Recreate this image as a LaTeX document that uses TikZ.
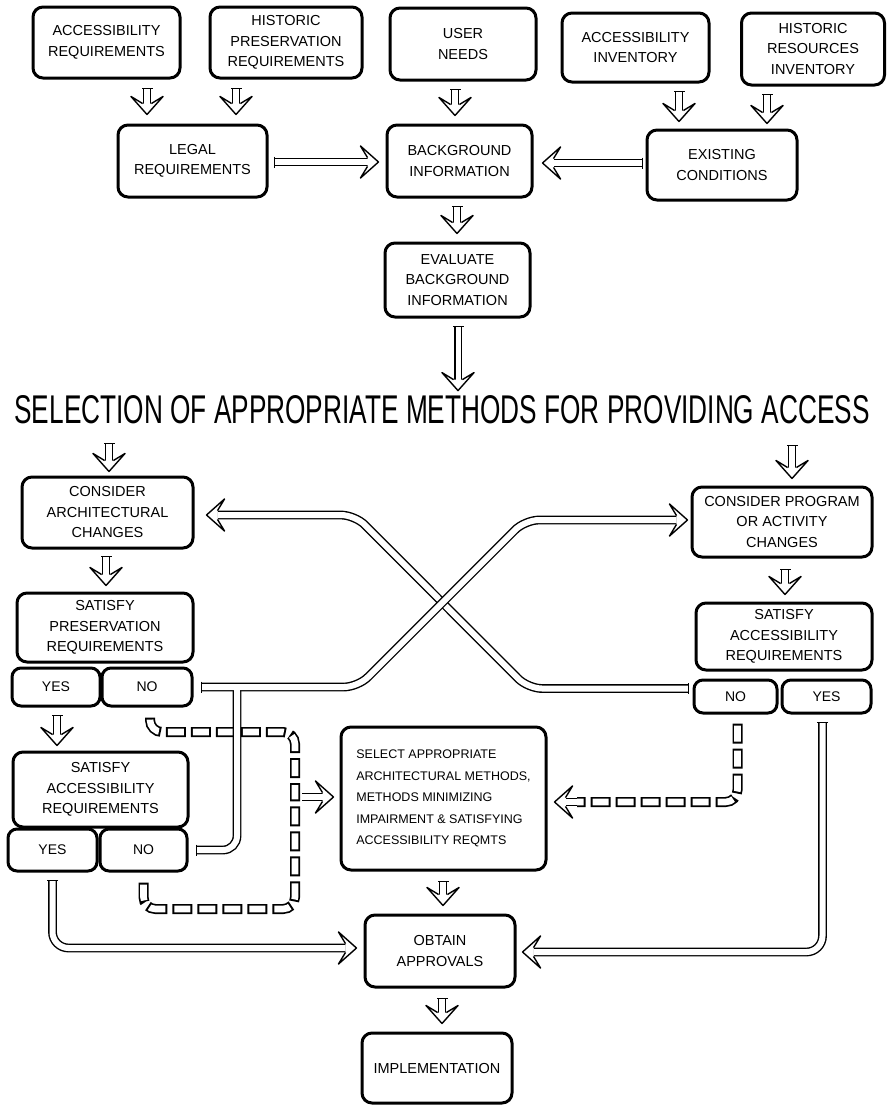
\documentclass[tikz,border=0pt]{standalone}
\usepackage{fontspec}
\setmainfont{Liberation Sans}
\usepackage{graphicx}
\usetikzlibrary{calc}
\tikzset{
  bhead/.pic={\draw[line width=1.4pt, fill=white, line join=round] (-11,-4.4) -- (-18,-16) -- (0,0) -- (-18,16) -- (-11,4.4);},
  btail/.pic={\draw[line width=1.4pt] (0,-5.5) -- (0,5.5);},
  box/.style={draw, line width=3pt, rounded corners=10pt, align=center, inner sep=0pt, font=\fontsize{14.5}{20.5}\selectfont},
  yn/.style={draw, line width=3pt, rounded corners=9pt, inner sep=0pt, font=\fontsize{14}{15}\selectfont},
  sz/.style 2 args={minimum width=#1pt, minimum height=#2pt},
  dbl/.style={draw, line width=1.4pt, double=white, double distance=6pt},
  dsh/.style={line width=10pt, dash pattern=on 20pt off 5pt,
    postaction={draw=white, line width=6.6pt, dash pattern=on 16pt off 9pt, dash phase=23pt}},
}
\newcommand\vda[5]{%
  \coordinate (vx) at (#1,0);
  \coordinate (vs) at ($(#2.south -| vx)+(0,#4)$);
  \coordinate (ve) at ($(#3.north -| vx)+(0,-#5)$);
  \draw[dbl, shorten >=11pt] (vs) -- (ve);
  \pic[rotate=-90] at (vs) {btail};
  \pic[rotate=-90] at (ve) {bhead};}
\begin{document}
\begin{tikzpicture}[x=1pt,y=-1pt]
\useasboundingbox (0,0) rectangle (888,1106);
% top row
\node[box, sz={147}{71}] (accreq) at (106.5,42.5) {ACCESSIBILITY\\REQUIREMENTS};
\node[box, sz={152}{71}] (histpres) at (286,42.5) {HISTORIC\\PRESERVATION\\REQUIREMENTS};
\node[box, sz={146}{72}] (userneeds) at (463,44) {USER\\NEEDS};
\node[box, sz={147}{69}] (accinv) at (635.5,47.5) {ACCESSIBILITY\\INVENTORY};
\node[box, sz={143}{72}] (histres) at (813,49) {HISTORIC\\RESOURCES\\INVENTORY};
% second row
\node[box, sz={149}{72}] (legal) at (192.5,161) {LEGAL\\REQUIREMENTS};
\node[box, sz={145}{72}] (bg) at (459.5,161) {BACKGROUND\\INFORMATION};
\node[box, sz={150}{70}] (existing) at (722,165) {EXISTING\\CONDITIONS};
\node[box, sz={145}{74}] (eval) at (457.5,280) {EVALUATE\\BACKGROUND\\INFORMATION};
% title
\node[inner sep=0pt] (title) at (442,410) {\resizebox{855pt}{28pt}{SELECTION OF APPROPRIATE METHODS FOR PROVIDING ACCESS}};
% left column
\node[box, sz={171}{71}] (consarch) at (107.5,512.5) {CONSIDER\\ARCHITECTURAL\\CHANGES};
\node[box, sz={176}{69}] (satpres) at (105,627.5) {SATISFY\\PRESERVATION\\REQUIREMENTS};
\node[yn, sz={88}{38}] (yes1) at (56,687) {YES};
\node[yn, sz={90}{38}] (no1) at (147,687) {NO};
\node[box, sz={175}{75}] (sataccl) at (100.5,789.5) {SATISFY\\ACCESSIBILITY\\REQUIREMENTS};
\node[yn, sz={89}{42}] (yes2) at (52.5,850) {YES};
\node[yn, sz={87}{42}] (no2) at (143.5,850) {NO};
% right column
\node[box, sz={180}{70}] (consprog) at (782,522) {CONSIDER PROGRAM\\OR ACTIVITY\\CHANGES};
\node[box, sz={176}{67}] (sataccr) at (784,636.5) {SATISFY\\ACCESSIBILITY\\REQUIREMENTS};
\node[yn, sz={83}{33}] (nor) at (735.5,696.5) {NO};
\node[yn, sz={89}{33}] (yesr) at (826.5,696.5) {YES};
% centre bottom
\node[box, sz={205}{143}, align=left, font=\fontsize{12.5}{21.5}\selectfont] (select) at (443.5,798.5) {SELECT APPROPRIATE\\ARCHITECTURAL METHODS,\\METHODS MINIMIZING\\IMPAIRMENT \& SATISFYING\\ACCESSIBILITY REQMTS};
\node[box, sz={150}{72}] (obtain) at (440,951) {OBTAIN\\APPROVALS};
\node[box, sz={150}{70}] (impl) at (437,1068) {IMPLEMENTATION};

% short vertical arrows
\vda{147}{accreq}{legal}{9}{9}
\vda{236}{histpres}{legal}{9}{9}
\vda{455}{userneeds}{bg}{8}{8}
\vda{679}{accinv}{existing}{8}{7}
\vda{767}{histres}{existing}{8}{5}
\vda{457}{bg}{eval}{8}{8}
\vda{109}{title}{consarch}{19}{4}
\vda{792}{title}{consprog}{21}{7}
\vda{106}{consarch}{satpres}{7}{6}
\vda{785}{consprog}{sataccr}{11}{7}
\vda{57}{yes1}{sataccl}{8}{5}
\vda{443}{select}{obtain}{10}{8}
\vda{442}{obtain}{impl}{10}{8}
% long arrow to title
\coordinate (es) at ($(eval.south)+(0.5,8)$);
\coordinate (ee) at ($(title.north -| es)+(0,-5)$);
\draw[dbl, double distance=5pt, shorten >=11pt] (es) -- (ee);
\pic[rotate=-90] at (es) {btail};
\pic[rotate=-90] at (ee) {bhead};
% horizontal arrows
\coordinate (ls) at ($(legal.east)+(6,1)$);
\coordinate (le) at ($(bg.west)+(-7,1)$);
\draw[dbl, shorten >=11pt] (ls) -- (le);
\pic at (ls) {btail}; \pic at (le) {bhead};
\coordinate (xs) at ($(existing.west)+(-3,-2)$);
\coordinate (xe) at ($(bg.east)+(9,2)$);
\draw[dbl, shorten >=11pt] (xs) -- (xe);
\pic at (xs) {btail}; \pic[rotate=180] at (xe) {bhead};

% dashed connectors
\coordinate (dj) at (295,797);
\coordinate (d1s) at ($(no1.south)+(3,10)$);
\coordinate (d2s) at ($(no2.south)+(0,10)$);
\draw[dsh, rounded corners=12pt] (d1s) -- (d1s |- 0,732) -- (295,732) -- (dj);
\draw[dsh, rounded corners=12pt] (d2s) -- (d2s |- 0,909) -- (295,909) -- (dj);
\coordinate (djs) at (302,797);
\coordinate (dje) at ($(select.west)+(-6,-1.5)$);
\draw[dbl, shorten >=11pt] (djs) -- (dje);
\pic at (dje) {bhead};
\coordinate (d3s) at ($(nor.south)+(2,9)$);
\coordinate (d3j) at (577,802);
\draw[dsh, rounded corners=12pt] (d3s) -- (d3s |- d3j) -- (d3j);
\coordinate (d3e) at ($(select.east)+(7,3.5)$);
\draw[dbl, shorten >=11pt] (d3j) -- (d3e);
\pic[rotate=180] at (d3e) {bhead};

% crossing connectors
\coordinate (as) at ($(nor.west)+(-4,-8)$);
\coordinate (ae) at ($(consarch.east)+(12,2.5)$);
\draw[dbl, rounded corners=14pt, shorten >=11pt] (as) -- (528,688.5) -- (355,515) -- (ae);
\pic at (as) {btail}; \pic[rotate=180] at (ae) {bhead};
\coordinate (cs) at ($(no2.east)+(8,0)$);
\coordinate (cj) at (237,687);
\draw[dbl, rounded corners=14pt] (cs) -- (237,850) -- (cj);
\pic at (cs) {btail};
\coordinate (bs) at ($(no1.east)+(8,0)$);
\coordinate (be) at ($(consprog.west)+(-3,-2)$);
\draw[dbl, rounded corners=14pt, shorten >=11pt] (bs) -- (358,687) -- (525,520) -- (be);
\pic at (bs) {btail}; \pic at (be) {bhead};
\draw[white, line width=6pt] (237,700) -- (cj);

% yes connectors to approvals
\coordinate (ys) at ($(yes2.south)+(0,8)$);
\coordinate (ye) at ($(obtain.west)+(-7,-3)$);
\draw[dbl, rounded corners=16pt, shorten >=11pt] (ys) -- (ys |- ye) -- (ye);
\pic[rotate=-90] at (ys) {btail}; \pic at (ye) {bhead};
\coordinate (rs) at ($(yesr.south)+(-4,8)$);
\coordinate (re) at ($(obtain.east)+(6,1)$);
\draw[dbl, rounded corners=16pt, shorten >=11pt] (rs) -- (rs |- re) -- (re);
\pic[rotate=-90] at (rs) {btail}; \pic[rotate=180] at (re) {bhead};
\end{tikzpicture}
\end{document}
